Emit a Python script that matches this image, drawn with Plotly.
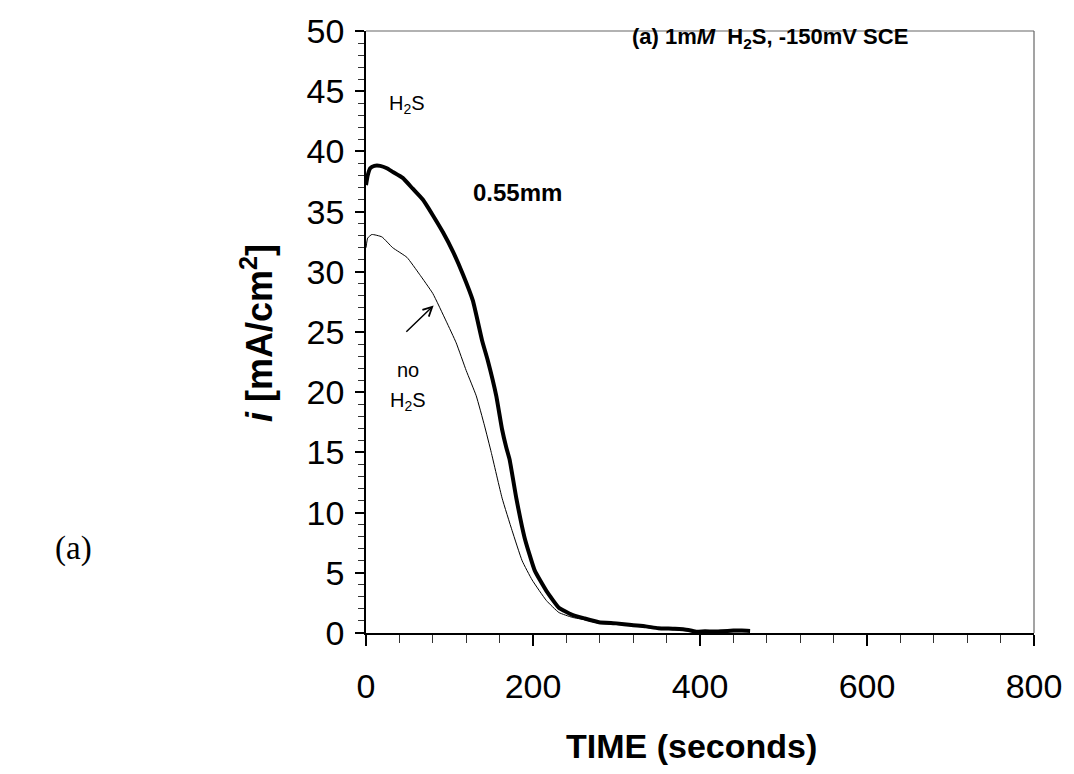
import plotly.graph_objects as go

# Current density transients at -150 mV SCE
time_thick = [0, 2, 5, 10, 17, 25, 32, 44, 56, 68, 80, 92, 104, 116, 128, 139, 146, 156,
              163, 168, 172, 180, 190, 202, 216, 231, 247, 262, 279, 300, 318, 335, 350,
              370, 386, 396, 406, 416, 426, 440, 450, 460]
i_thick = [37.2, 38.0, 38.6, 38.8, 38.8, 38.6, 38.3, 37.8, 36.9, 36.0, 34.7, 33.3, 31.7,
           29.8, 27.6, 24.3, 22.6, 19.7, 16.9, 15.4, 14.4, 11.2, 7.9, 5.2, 3.5, 2.1, 1.5,
           1.2, 0.9, 0.8, 0.66, 0.55, 0.4, 0.35, 0.25, 0.1, 0.15, 0.12, 0.15, 0.2, 0.2,
           0.17]

time_thin = [0, 2, 7, 19, 32, 49, 64, 80, 96, 108, 120, 132, 142, 150, 163, 175, 187,
             199, 216, 231, 247, 262, 279, 300, 318, 350, 386, 420, 455]
i_thin = [32.0, 32.8, 33.1, 32.9, 32.0, 31.2, 29.8, 28.2, 25.9, 24.1, 21.8, 19.7, 17.2,
          15.0, 11.2, 8.5, 6.0, 4.4, 2.7, 1.7, 1.3, 1.1, 0.8, 0.7, 0.6, 0.35, 0.2, 0.1,
          0.12]

x_ticks = [0, 200, 400, 600, 800]
y_ticks = [0, 5, 10, 15, 20, 25, 30, 35, 40, 45, 50]

SANS = "Liberation Sans, Arial, sans-serif"

fig = go.Figure()
fig.add_trace(go.Scatter(x=time_thin, y=i_thin, mode="lines",
                         line=dict(color="black", width=1, shape="spline", smoothing=0.4),
                         showlegend=False))
fig.add_trace(go.Scatter(x=time_thick, y=i_thick, mode="lines",
                         line=dict(color="black", width=4, shape="spline", smoothing=0.4),
                         showlegend=False))

fig.update_layout(
    width=1074, height=774,
    margin=dict(l=366, r=37, t=24, b=141),
    plot_bgcolor="white", paper_bgcolor="white",
    font=dict(family=SANS, color="black"),
)
fig.update_xaxes(
    range=[0, 800], tickvals=x_ticks, ticktext=[str(v) for v in x_ticks],
    showgrid=False, zeroline=False, showline=True, linecolor="black", linewidth=1.5,
    ticks="outside", ticklen=11, tickwidth=1.5, tickcolor="black",
    tickfont=dict(size=34, family=SANS), ticklabelstandoff=11,
    minor=dict(dtick=40, ticks="outside", ticklen=8, tickwidth=1, tickcolor="#333"),
)
fig.update_yaxes(
    range=[0, 50], tickvals=y_ticks, ticktext=[str(v) for v in y_ticks],
    showgrid=False, zeroline=False, showline=True, linecolor="black", linewidth=1.5,
    ticks="outside", ticklen=9, tickwidth=1.5, tickcolor="black",
    tickfont=dict(size=34, family=SANS), ticklabelstandoff=4,
    minor=dict(dtick=1, ticks="outside", ticklen=6, tickwidth=1, tickcolor="#333"),
)

# gray frame on top and right
fig.add_shape(type="line", xref="paper", yref="paper", x0=0, x1=1, y0=1, y1=1,
              line=dict(color="#666", width=1.2))
fig.add_shape(type="line", xref="paper", yref="paper", x0=1, x1=1, y0=0, y1=1,
              line=dict(color="#666", width=1.2))

ann = [
    dict(text="<b>(a) 1m<i>M</i>  H<sub>2</sub>S, -150mV SCE</b>", x=772, y=31,
         size=22),
    dict(text="H<sub>2</sub>S", x=407, y=98, size=20),
    dict(text="<b>0.55mm</b>", x=518, y=187, size=24),
    dict(text="no", x=408, y=367, size=20),
    dict(text="H<sub>2</sub>S", x=408, y=399, size=20),
    dict(text="<b>TIME (seconds)</b>", x=693, y=747, size=34),
]
for a in ann:
    fig.add_annotation(text=a["text"], xref="paper", yref="paper",
                       x=(a["x"] - 366) / 671, y=(633 - a["y"]) / 609,
                       showarrow=False, xanchor="center", yanchor="middle",
                       font=dict(size=a["size"], family=SANS, color="black"))

fig.add_annotation(text="<b><i>i</i> [mA/cm<sup>2</sup>]</b>", textangle=-90,
                   xref="paper", yref="paper", x=(257 - 366) / 671, y=(633 - 329) / 609,
                   showarrow=False, xanchor="center", yanchor="middle",
                   font=dict(size=36, family=SANS, color="black"))

fig.add_annotation(text="(a)", xref="paper", yref="paper",
                   x=(72 - 366) / 671, y=(633 - 548) / 609, showarrow=False,
                   xanchor="center", yanchor="middle",
                   font=dict(size=33, family="Liberation Serif, Times New Roman, serif",
                             color="black"))

# arrow pointing at the no-H2S curve
fig.add_annotation(x=81, y=27.2, ax=46.5, ay=24.9, xref="x", yref="y",
                   axref="x", ayref="y", text="", showarrow=True,
                   arrowhead=5, arrowsize=1.2, arrowwidth=1.5, arrowcolor="black")

fig.write_html("out.html")
